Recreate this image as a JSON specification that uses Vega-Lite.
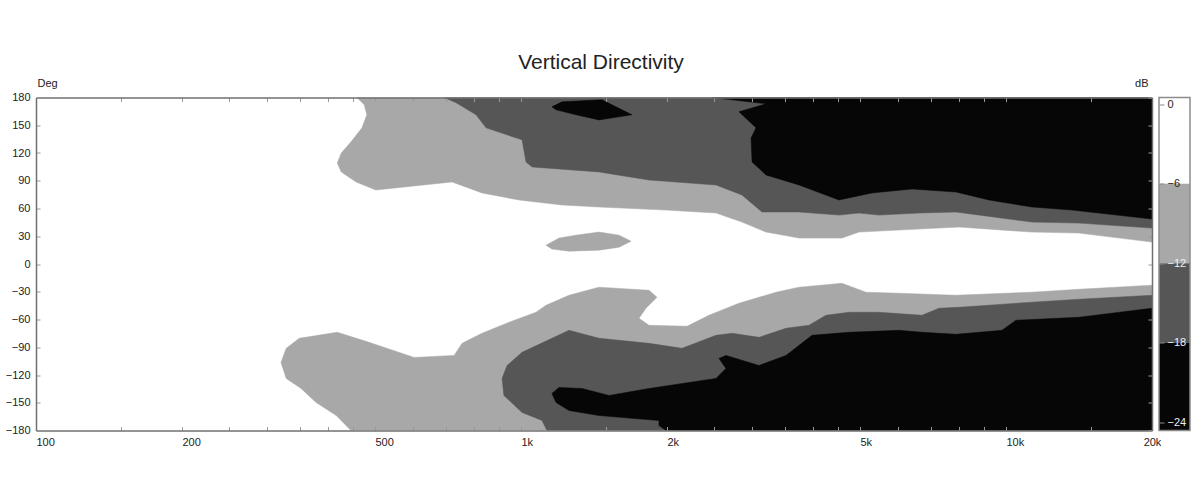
{
  "$schema": "https://vega.github.io/schema/vega-lite/v6.json",
  "background": "white",
  "padding": {"left": 5, "top": 51.5, "right": 5, "bottom": 5},
  "title": {"text": "Vertical Directivity", "fontSize": 21, "font": "Liberation Sans", "fontWeight": "normal", "color": "#222222", "offset": 5, "dx": 3, "anchor": "middle", "frame": "bounds"},
  "config": {
    "view": {"stroke": null},
    "axis": {"domainColor": "#707070", "domainWidth": 1.5, "tickColor": "#9a9a9a", "tickWidth": 1, "labelFont": "Liberation Sans", "labelFontSize": 11, "labelColor": "#222222", "titleFont": "Liberation Sans", "titleColor": "#222222", "titleFontWeight": "normal", "titleFontSize": 11, "grid": false}
  },
  "datasets": {
    "contours": [
      {"poly":"A","level":"light","i":0,"freq":459,"deg":180},
      {"poly":"A","level":"light","i":1,"freq":475,"deg":172.1},
      {"poly":"A","level":"light","i":2,"freq":481,"deg":161.3},
      {"poly":"A","level":"light","i":3,"freq":470,"deg":147.2},
      {"poly":"A","level":"light","i":4,"freq":446,"deg":132.0},
      {"poly":"A","level":"light","i":5,"freq":426,"deg":120.1},
      {"poly":"A","level":"light","i":6,"freq":418,"deg":109.3},
      {"poly":"A","level":"light","i":7,"freq":426,"deg":99.5},
      {"poly":"A","level":"light","i":8,"freq":457,"deg":88.7},
      {"poly":"A","level":"light","i":9,"freq":502,"deg":80.0},
      {"poly":"A","level":"light","i":10,"freq":721,"deg":88.7},
      {"poly":"A","level":"light","i":11,"freq":831,"deg":76.8},
      {"poly":"A","level":"light","i":12,"freq":991,"deg":69.2},
      {"poly":"A","level":"light","i":13,"freq":1215,"deg":63.8},
      {"poly":"A","level":"light","i":14,"freq":1448,"deg":61.6},
      {"poly":"A","level":"light","i":15,"freq":1991,"deg":58.3},
      {"poly":"A","level":"light","i":16,"freq":2524,"deg":55.1},
      {"poly":"A","level":"light","i":17,"freq":2855,"deg":45.3},
      {"poly":"A","level":"light","i":18,"freq":3200,"deg":34.5},
      {"poly":"A","level":"light","i":19,"freq":3744,"deg":28.0},
      {"poly":"A","level":"light","i":20,"freq":4590,"deg":28.0},
      {"poly":"A","level":"light","i":21,"freq":4978,"deg":34.5},
      {"poly":"A","level":"light","i":22,"freq":6018,"deg":36.7},
      {"poly":"A","level":"light","i":23,"freq":8000,"deg":39.9},
      {"poly":"A","level":"light","i":24,"freq":11314,"deg":34.5},
      {"poly":"A","level":"light","i":25,"freq":14142,"deg":33.4},
      {"poly":"A","level":"light","i":26,"freq":20000,"deg":23.7},
      {"poly":"A","level":"light","i":27,"freq":20000,"deg":180},

      {"poly":"B","level":"dark","i":0,"freq":694,"deg":180},
      {"poly":"B","level":"dark","i":1,"freq":735,"deg":174.3},
      {"poly":"B","level":"dark","i":2,"freq":808,"deg":161.3},
      {"poly":"B","level":"dark","i":3,"freq":847,"deg":147.2},
      {"poly":"B","level":"dark","i":4,"freq":1005,"deg":134.2},
      {"poly":"B","level":"dark","i":5,"freq":1024,"deg":110.3},
      {"poly":"B","level":"dark","i":6,"freq":1054,"deg":104.9},
      {"poly":"B","level":"dark","i":7,"freq":1448,"deg":99.5},
      {"poly":"B","level":"dark","i":8,"freq":1836,"deg":90.8},
      {"poly":"B","level":"dark","i":9,"freq":2524,"deg":85.4},
      {"poly":"B","level":"dark","i":10,"freq":2855,"deg":74.6},
      {"poly":"B","level":"dark","i":11,"freq":3140,"deg":56.2},
      {"poly":"B","level":"dark","i":12,"freq":3744,"deg":56.2},
      {"poly":"B","level":"dark","i":13,"freq":4525,"deg":52.9},
      {"poly":"B","level":"dark","i":14,"freq":4978,"deg":55.1},
      {"poly":"B","level":"dark","i":15,"freq":5472,"deg":52.9},
      {"poly":"B","level":"dark","i":16,"freq":6616,"deg":55.1},
      {"poly":"B","level":"dark","i":17,"freq":7886,"deg":56.2},
      {"poly":"B","level":"dark","i":18,"freq":11314,"deg":45.3},
      {"poly":"B","level":"dark","i":19,"freq":14142,"deg":44.2},
      {"poly":"B","level":"dark","i":20,"freq":20000,"deg":38.8},
      {"poly":"B","level":"dark","i":21,"freq":20000,"deg":180},

      {"poly":"C","level":"black","i":0,"freq":2476,"deg":180},
      {"poly":"C","level":"black","i":1,"freq":3200,"deg":173.2},
      {"poly":"C","level":"black","i":2,"freq":2815,"deg":164.5},
      {"poly":"C","level":"black","i":3,"freq":3052,"deg":147.2},
      {"poly":"C","level":"black","i":4,"freq":2981,"deg":136.3},
      {"poly":"C","level":"black","i":5,"freq":2995,"deg":110.3},
      {"poly":"C","level":"black","i":6,"freq":3200,"deg":96.3},
      {"poly":"C","level":"black","i":7,"freq":3744,"deg":85.4},
      {"poly":"C","level":"black","i":8,"freq":4525,"deg":69.2},
      {"poly":"C","level":"black","i":9,"freq":5292,"deg":76.8},
      {"poly":"C","level":"black","i":10,"freq":6402,"deg":81.1},
      {"poly":"C","level":"black","i":11,"freq":7886,"deg":77.8},
      {"poly":"C","level":"black","i":12,"freq":9225,"deg":69.2},
      {"poly":"C","level":"black","i":13,"freq":11314,"deg":61.6},
      {"poly":"C","level":"black","i":14,"freq":13681,"deg":58.3},
      {"poly":"C","level":"black","i":15,"freq":20000,"deg":48.6},
      {"poly":"C","level":"black","i":16,"freq":20000,"deg":180},

      {"poly":"C2","level":"black","i":0,"freq":1158,"deg":169.9},
      {"poly":"C2","level":"black","i":1,"freq":1215,"deg":175.3},
      {"poly":"C2","level":"black","i":2,"freq":1469,"deg":177.5},
      {"poly":"C2","level":"black","i":3,"freq":1540,"deg":172.1},
      {"poly":"C2","level":"black","i":4,"freq":1694,"deg":161.3},
      {"poly":"C2","level":"black","i":5,"freq":1593,"deg":159.1},
      {"poly":"C2","level":"black","i":6,"freq":1448,"deg":155.8},
      {"poly":"C2","level":"black","i":7,"freq":1298,"deg":161.3},
      {"poly":"C2","level":"black","i":8,"freq":1181,"deg":166.7},

      {"poly":"D","level":"light","i":0,"freq":446,"deg":-180},
      {"poly":"D","level":"light","i":1,"freq":416,"deg":-163.8},
      {"poly":"D","level":"light","i":2,"freq":378,"deg":-149.7},
      {"poly":"D","level":"light","i":3,"freq":352,"deg":-134.6},
      {"poly":"D","level":"light","i":4,"freq":328,"deg":-123.7},
      {"poly":"D","level":"light","i":5,"freq":320,"deg":-106.4},
      {"poly":"D","level":"light","i":6,"freq":328,"deg":-91.2},
      {"poly":"D","level":"light","i":7,"freq":349,"deg":-80.3},
      {"poly":"D","level":"light","i":8,"freq":418,"deg":-73.8},
      {"poly":"D","level":"light","i":9,"freq":486,"deg":-84.7},
      {"poly":"D","level":"light","i":10,"freq":602,"deg":-101.0},
      {"poly":"D","level":"light","i":11,"freq":728,"deg":-98.8},
      {"poly":"D","level":"light","i":12,"freq":756,"deg":-85.8},
      {"poly":"D","level":"light","i":13,"freq":831,"deg":-74.9},
      {"poly":"D","level":"light","i":14,"freq":945,"deg":-63.0},
      {"poly":"D","level":"light","i":15,"freq":1074,"deg":-52.2},
      {"poly":"D","level":"light","i":16,"freq":1126,"deg":-44.6},
      {"poly":"D","level":"light","i":17,"freq":1256,"deg":-33.8},
      {"poly":"D","level":"light","i":18,"freq":1448,"deg":-25.1},
      {"poly":"D","level":"light","i":19,"freq":1836,"deg":-28.4},
      {"poly":"D","level":"light","i":20,"freq":1907,"deg":-35.9},
      {"poly":"D","level":"light","i":21,"freq":1810,"deg":-47.8},
      {"poly":"D","level":"light","i":22,"freq":1751,"deg":-58.7},
      {"poly":"D","level":"light","i":23,"freq":1836,"deg":-66.3},
      {"poly":"D","level":"light","i":24,"freq":2199,"deg":-67.3},
      {"poly":"D","level":"light","i":25,"freq":2441,"deg":-55.4},
      {"poly":"D","level":"light","i":26,"freq":2815,"deg":-42.4},
      {"poly":"D","level":"light","i":27,"freq":3356,"deg":-30.5},
      {"poly":"D","level":"light","i":28,"freq":3744,"deg":-25.1},
      {"poly":"D","level":"light","i":29,"freq":4590,"deg":-20.8},
      {"poly":"D","level":"light","i":30,"freq":5143,"deg":-30.5},
      {"poly":"D","level":"light","i":31,"freq":6018,"deg":-31.6},
      {"poly":"D","level":"light","i":32,"freq":7886,"deg":-33.8},
      {"poly":"D","level":"light","i":33,"freq":11314,"deg":-30.5},
      {"poly":"D","level":"light","i":34,"freq":14142,"deg":-27.3},
      {"poly":"D","level":"light","i":35,"freq":20000,"deg":-22.9},
      {"poly":"D","level":"light","i":36,"freq":20000,"deg":-180},

      {"poly":"E","level":"dark","i":0,"freq":1131,"deg":-180},
      {"poly":"E","level":"dark","i":1,"freq":1105,"deg":-169.2},
      {"poly":"E","level":"dark","i":2,"freq":1005,"deg":-160.5},
      {"poly":"E","level":"dark","i":3,"freq":922,"deg":-142.1},
      {"poly":"E","level":"dark","i":4,"freq":914,"deg":-123.7},
      {"poly":"E","level":"dark","i":5,"freq":936,"deg":-109.7},
      {"poly":"E","level":"dark","i":6,"freq":1005,"deg":-95.5},
      {"poly":"E","level":"dark","i":7,"freq":1256,"deg":-71.7},
      {"poly":"E","level":"dark","i":8,"freq":1448,"deg":-80.3},
      {"poly":"E","level":"dark","i":9,"freq":1836,"deg":-85.8},
      {"poly":"E","level":"dark","i":10,"freq":2148,"deg":-91.2},
      {"poly":"E","level":"dark","i":11,"freq":2524,"deg":-77.1},
      {"poly":"E","level":"dark","i":12,"freq":2723,"deg":-74.9},
      {"poly":"E","level":"dark","i":13,"freq":3096,"deg":-79.3},
      {"poly":"E","level":"dark","i":14,"freq":3519,"deg":-69.5},
      {"poly":"E","level":"dark","i":15,"freq":3924,"deg":-66.3},
      {"poly":"E","level":"dark","i":16,"freq":4255,"deg":-55.4},
      {"poly":"E","level":"dark","i":17,"freq":4746,"deg":-52.2},
      {"poly":"E","level":"dark","i":18,"freq":5472,"deg":-52.2},
      {"poly":"E","level":"dark","i":19,"freq":6711,"deg":-55.4},
      {"poly":"E","level":"dark","i":20,"freq":7276,"deg":-47.8},
      {"poly":"E","level":"dark","i":21,"freq":8000,"deg":-46.8},
      {"poly":"E","level":"dark","i":22,"freq":11314,"deg":-41.3},
      {"poly":"E","level":"dark","i":23,"freq":14142,"deg":-38.1},
      {"poly":"E","level":"dark","i":24,"freq":20000,"deg":-33.8},
      {"poly":"E","level":"dark","i":25,"freq":20000,"deg":-180},

      {"poly":"F","level":"black","i":0,"freq":20000,"deg":-180},
      {"poly":"F","level":"black","i":1,"freq":1991,"deg":-180},
      {"poly":"F","level":"black","i":2,"freq":1925,"deg":-174.6},
      {"poly":"F","level":"black","i":3,"freq":1925,"deg":-169.2},
      {"poly":"F","level":"black","i":4,"freq":1448,"deg":-163.8},
      {"poly":"F","level":"black","i":5,"freq":1256,"deg":-158.4},
      {"poly":"F","level":"black","i":6,"freq":1181,"deg":-149.7},
      {"poly":"F","level":"black","i":7,"freq":1158,"deg":-140.0},
      {"poly":"F","level":"black","i":8,"freq":1198,"deg":-133.5},
      {"poly":"F","level":"black","i":9,"freq":1336,"deg":-134.6},
      {"poly":"F","level":"black","i":10,"freq":1519,"deg":-142.1},
      {"poly":"F","level":"black","i":11,"freq":1836,"deg":-134.6},
      {"poly":"F","level":"black","i":12,"freq":2524,"deg":-123.7},
      {"poly":"F","level":"black","i":13,"freq":2646,"deg":-112.9},
      {"poly":"F","level":"black","i":14,"freq":2560,"deg":-102.1},
      {"poly":"F","level":"black","i":15,"freq":2646,"deg":-98.8},
      {"poly":"F","level":"black","i":16,"freq":3096,"deg":-109.7},
      {"poly":"F","level":"black","i":17,"freq":3519,"deg":-98.8},
      {"poly":"F","level":"black","i":18,"freq":3981,"deg":-77.1},
      {"poly":"F","level":"black","i":19,"freq":4746,"deg":-73.8},
      {"poly":"F","level":"black","i":20,"freq":6018,"deg":-71.7},
      {"poly":"F","level":"black","i":21,"freq":6711,"deg":-73.8},
      {"poly":"F","level":"black","i":22,"freq":7886,"deg":-76.0},
      {"poly":"F","level":"black","i":23,"freq":9811,"deg":-71.7},
      {"poly":"F","level":"black","i":24,"freq":10486,"deg":-60.8},
      {"poly":"F","level":"black","i":25,"freq":14142,"deg":-57.6},
      {"poly":"F","level":"black","i":26,"freq":20000,"deg":-47.8},

      {"poly":"G","level":"light","i":0,"freq":1126,"deg":20.4},
      {"poly":"G","level":"light","i":1,"freq":1198,"deg":28.0},
      {"poly":"G","level":"light","i":2,"freq":1298,"deg":31.2},
      {"poly":"G","level":"light","i":3,"freq":1448,"deg":34.5},
      {"poly":"G","level":"light","i":4,"freq":1593,"deg":31.2},
      {"poly":"G","level":"light","i":5,"freq":1686,"deg":24.7},
      {"poly":"G","level":"light","i":6,"freq":1593,"deg":18.2},
      {"poly":"G","level":"light","i":7,"freq":1448,"deg":15.0},
      {"poly":"G","level":"light","i":8,"freq":1256,"deg":13.9},
      {"poly":"G","level":"light","i":9,"freq":1158,"deg":16.1}
    ],
    "bar": [
      {"band":"0 to -6","top":0.5,"bottom":-6},
      {"band":"-6 to -12","top":-6,"bottom":-12},
      {"band":"-12 to -18","top":-12,"bottom":-18},
      {"band":"-18 to -24","top":-18,"bottom":-24.6}
    ]
  },
  "bounds": "flush",
  "spacing": 7,
  "hconcat": [
    {
      "width": 1116,
      "height": 333,
      "data": {"name": "contours"},
      "resolve": {"axis": {"x": "independent", "y": "independent"}},
      "encoding": {
        "x": {"field": "freq", "type": "quantitative", "scale": {"type": "log", "domain": [100, 20000], "nice": false}, "axis": null},
        "y": {"field": "deg", "type": "quantitative", "scale": {"domain": [-180, 180], "nice": false, "zero": false}, "axis": null},
        "detail": {"field": "poly"},
        "order": {"field": "i"}
      },
      "layer": [
        {
          "transform": [{"filter": "datum.level == 'light'"}],
          "mark": {"type": "line", "fill": "#a8a8a8", "stroke": "#a8a8a8", "strokeWidth": 0.5, "interpolate": "linear-closed", "clip": true},
          "encoding": {
            "x": {"field": "freq", "type": "quantitative", "scale": {"type": "log", "domain": [100, 20000], "nice": false},
              "axis": {"orient": "bottom", "zindex": 1, "values": [100,150,200,250,300,350,400,450,500,600,700,800,900,1000,1500,2000,2500,3000,3500,4000,4500,5000,6000,7000,8000,9000,10000,15000,20000],
                "labelExpr": "indexof([100,200,500,1000,2000,5000,10000,20000], datum.value) >= 0 ? (datum.value >= 1000 ? (datum.value/1000) + 'k' : '' + datum.value) : ''",
                "labelAlign": {"condition": {"test": "datum.value == 20000", "value": "center"}, "value": "left"},
                "labelOverlap": false, "labelFlush": false, "tickSize": -4, "labelPadding": 10, "title": null}},
            "y": {"field": "deg", "type": "quantitative", "scale": {"domain": [-180, 180], "nice": false, "zero": false},
              "axis": {"orient": "left", "zindex": 1, "values": [-180,-150,-120,-90,-60,-30,0,30,60,90,120,150,180], "labelOverlap": false, "labelFlush": false, "tickSize": -4, "labelPadding": 10,
                "title": "Deg", "titleAngle": 0, "titleAlign": "left", "titleBaseline": "alphabetic", "titleX": 1, "titleY": -11}}
          }
        },
        {
          "transform": [{"filter": "datum.level == 'dark'"}],
          "mark": {"type": "line", "fill": "#565656", "stroke": "#565656", "strokeWidth": 0.5, "interpolate": "linear-closed", "clip": true}
        },
        {
          "transform": [{"filter": "datum.level == 'black'"}],
          "mark": {"type": "line", "fill": "#060606", "stroke": "#060606", "strokeWidth": 0.5, "interpolate": "linear-closed", "clip": true}
        },
        {
          "mark": {"type": "point", "opacity": 0},
          "encoding": {
            "x": {"field": "freq", "type": "quantitative", "scale": {"type": "log", "domain": [100, 20000], "nice": false},
              "axis": {"orient": "top", "zindex": 1, "values": [100,150,200,250,300,350,400,450,500,600,700,800,900,1000,1500,2000,2500,3000,3500,4000,4500,5000,6000,7000,8000,9000,10000,15000,20000], "labels": false, "tickSize": -4, "title": null}},
            "y": {"field": "deg", "type": "quantitative", "scale": {"domain": [-180, 180], "nice": false, "zero": false},
              "axis": {"orient": "right", "zindex": 1, "values": [-180,-150,-120,-90,-60,-30,0,30,60,90,120,150,180], "labels": false, "tickSize": -4,
                "title": "dB", "titleAngle": 0, "titleAlign": "right", "titleBaseline": "alphabetic", "titleX": -4, "titleY": -11}}
          }
        }
      ]
    },
    {
      "width": 31,
      "height": 333,
      "data": {"name": "bar"},
      "layer": [
        {
          "mark": {"type": "rect"},
          "encoding": {
            "y": {"field": "top", "type": "quantitative", "scale": {"domain": [-24.6, 0.5], "nice": false, "zero": false},
              "axis": {"orient": "left", "zindex": 2, "values": [0, -6, -12, -18, -24], "domain": false, "tickSize": -5, "tickColor": "#8a8a8a", "labelPadding": -3, "labelAlign": "left", "labelFlush": false, "labelOverlap": false,
                "labelColor": {"condition": {"test": "datum.value <= -12", "value": "#eeeeee"}, "value": "#222222"}, "title": null}},
            "y2": {"field": "bottom"},
            "color": {"field": "band", "type": "nominal", "scale": {"domain": ["0 to -6", "-6 to -12", "-12 to -18", "-18 to -24"], "range": ["#ffffff", "#a8a8a8", "#565656", "#060606"]}, "legend": null}
          }
        },
        {
          "mark": {"type": "rect", "fill": null, "fillOpacity": 0, "stroke": "#8c8c8c", "strokeWidth": 1.5},
          "encoding": {
            "y": {"aggregate": "max", "field": "top", "type": "quantitative"},
            "y2": {"aggregate": "min", "field": "bottom"}
          }
        }
      ]
    }
  ]
}
